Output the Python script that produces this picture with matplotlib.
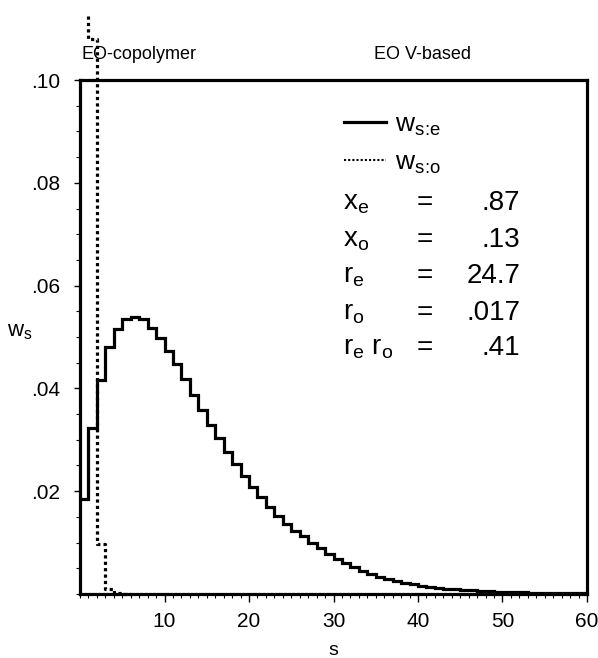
import numpy as np
import matplotlib
matplotlib.use("Agg")
import matplotlib.pyplot as plt
from matplotlib.ticker import MultipleLocator, FixedLocator
from matplotlib.lines import Line2D

plt.rcParams['font.family'] = ['Liberation Sans', 'DejaVu Sans']
plt.rcParams['mathtext.fontset'] = 'custom'
plt.rcParams['mathtext.rm'] = 'Liberation Sans'

# --- data ---
s_e = np.arange(1, 61)
ws_e = [0.0185, 0.0323, 0.0416, 0.0481, 0.0516, 0.0535, 0.0539, 0.0535, 0.0518, 0.0498,
        0.0473, 0.0447, 0.0418, 0.0387, 0.0358, 0.0329, 0.0303, 0.0277, 0.0253, 0.0229,
        0.0208, 0.0188, 0.0169, 0.0152, 0.0137, 0.0123, 0.0112, 0.0100, 0.0089, 0.0078,
        0.0068, 0.0060, 0.0052, 0.0045, 0.0039, 0.0034, 0.0030, 0.0026, 0.0022, 0.0019,
        0.0016, 0.0014, 0.0012, 0.0010, 0.0009, 0.0008, 0.0007, 0.0006, 0.0005, 0.0004,
        0.0004, 0.0003, 0.0003, 0.0002, 0.0002, 0.0002, 0.0001, 0.0001, 0.0001, 0.0001]

s_o = [1, 2, 3, 4, 5, 6]
ws_o = [0.1125, 0.108, 0.0097, 0.0009, 0.0002, 0.0]   # s=1 runs off the top

y_ticks = [0.02, 0.04, 0.06, 0.08, 0.10]
y_labels = ['.02', '.04', '.06', '.08', '.10']
x_ticks = [10, 20, 30, 40, 50, 60]

param_names = ['x$_\\mathregular{e}$', 'x$_\\mathregular{o}$', 'r$_\\mathregular{e}$',
               'r$_\\mathregular{o}$', 'r$_\\mathregular{e}$ r$_\\mathregular{o}$']
param_values = ['.87', '.13', '24.7', '.017', '.41']

# --- figure ---
fig = plt.figure(figsize=(5.98, 6.58), dpi=100)
ax = fig.add_axes([0.1338, 0.0973, 0.8478, 0.7811])

ax.stairs(ws_e, edges=np.arange(0, 61), baseline=None, color='black', lw=2.3)
ax.plot(s_o, ws_o, drawstyle='steps-pre', color='black', lw=2.3,
        linestyle=(0, (1, 1)), clip_on=False, zorder=5)

ax.set_xlim(0, 60)
ax.set_ylim(0, 0.10)

for sp in ax.spines.values():
    sp.set_linewidth(2.3)

ax.xaxis.set_major_locator(FixedLocator(x_ticks))
ax.xaxis.set_minor_locator(MultipleLocator(1))
ax.yaxis.set_major_locator(FixedLocator(y_ticks))
ax.set_yticklabels(y_labels)
ax.yaxis.set_minor_locator(MultipleLocator(0.005))
ax.tick_params(axis='x', which='major', direction='out', length=6, width=1, labelsize=15, pad=7)
ax.tick_params(axis='x', which='minor', direction='out', length=3, width=0.8)
ax.tick_params(axis='y', which='major', direction='out', length=4, width=1, labelsize=15, pad=10)
ax.tick_params(axis='y', which='minor', direction='out', length=3, width=0.8)

ax.set_xlabel('s', fontsize=14, labelpad=8)
ax.set_ylabel('w$_\\mathregular{s}$', fontsize=16, rotation=0)
ax.yaxis.set_label_coords(-0.118, 0.49)

# titles above the frame
fig.text(0.137, 0.917, 'EO-copolymer', fontsize=13, va='center', ha='left')
fig.text(0.707, 0.917, 'EO V-based', fontsize=13, va='center', ha='center')

# legend (\! trims the relation spacing mathtext puts round ':')
handles = [Line2D([], [], color='black', lw=2.3),
           Line2D([], [], color='black', lw=1.5, linestyle=(0, (1, 1)))]
ax.legend(handles, ['w$_{\\mathregular{s}\\!:\\!\\mathregular{e}}$',
                    'w$_{\\mathregular{s}\\!:\\!\\mathregular{o}}$'],
          loc='upper left', bbox_to_anchor=(0.52, 0.937), frameon=False,
          fontsize=19, handlelength=1.6, handletextpad=0.35, labelspacing=0.47,
          borderaxespad=0, borderpad=0)

# parameter block
row_y = [0.761, 0.689, 0.619, 0.547, 0.479]
for name, val, y in zip(param_names, param_values, row_y):
    ax.text(0.519, y, name, transform=ax.transAxes, fontsize=20, va='center', ha='left')
    ax.text(0.68, y, '=', transform=ax.transAxes, fontsize=20, va='center', ha='center')
    ax.text(0.868, y, val, transform=ax.transAxes, fontsize=20, va='center', ha='right')

fig.savefig('out.png', dpi=100)
